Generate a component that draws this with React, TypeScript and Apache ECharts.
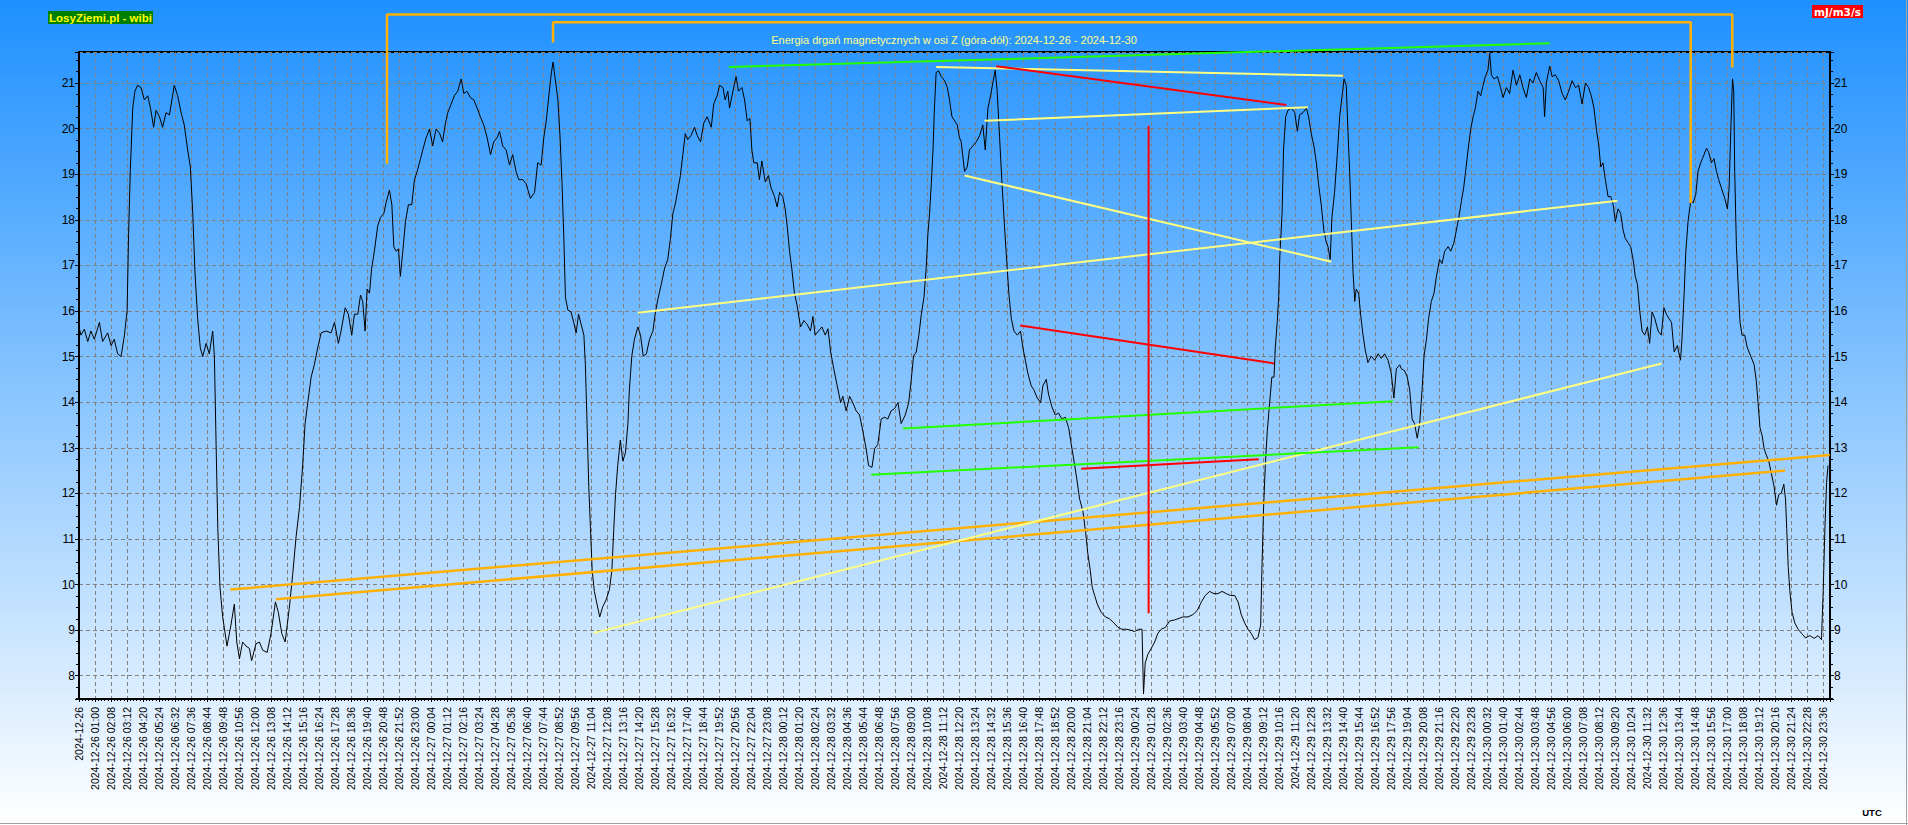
import React, { useEffect, useRef } from "react";
import * as echarts from "echarts";

// minutes from 2024-12-26 00:00 between two labelled ticks
const TICK = 7176 / 109;
const X_MAX = 7203;
const Y_MIN = 7.49;
const Y_MAX = 21.68;

const dayDates = ["2024-12-26", "2024-12-27", "2024-12-28", "2024-12-29", "2024-12-30"];
const times26 = ["", "01:00", "02:08", "03:12", "04:20", "05:24", "06:32", "07:36", "08:44", "09:48", "10:56", "12:00", "13:08", "14:12", "15:16", "16:24", "17:28", "18:36", "19:40", "20:48", "21:52", "23:00"];
const times27 = ["00:04", "01:12", "02:16", "03:24", "04:28", "05:36", "06:40", "07:44", "08:52", "09:56", "11:04", "12:08", "13:16", "14:20", "15:28", "16:32", "17:40", "18:44", "19:52", "20:56", "22:04", "23:08"];
const times28 = ["00:12", "01:20", "02:24", "03:32", "04:36", "05:44", "06:48", "07:56", "09:00", "10:08", "11:12", "12:20", "13:24", "14:32", "15:36", "16:40", "17:48", "18:52", "20:00", "21:04", "22:12", "23:16"];
const times29 = ["00:24", "01:28", "02:36", "03:40", "04:48", "05:52", "07:00", "08:04", "09:12", "10:16", "11:20", "12:28", "13:32", "14:40", "15:44", "16:52", "17:56", "19:04", "20:08", "21:16", "22:20", "23:28"];
const times30 = ["00:32", "01:40", "02:44", "03:48", "04:56", "06:00", "07:08", "08:12", "09:20", "10:24", "11:32", "12:36", "13:44", "14:48", "15:56", "17:00", "18:08", "19:12", "20:16", "21:24", "22:28", "23:36"];

const tickLabels: string[] = [times26, times27, times28, times29, times30].flatMap((day, d) =>
  day.map((t) => (t ? `${dayDates[d]} ${t}` : dayDates[d]))
);

// energy [minute since 2024-12-26 00:00 UTC, mJ/m3/s]
const part1: [number, number][] = [[0,15.65],[8,15.47],[22,15.6],[36,15.33],[49,15.56],[63,15.38],[84,15.75],[97,15.33],[118,15.52],[132,15.24],[145,15.38],[159,15.06],[173,15.0],[187,15.47],[198,16.02],[204,17.68],[211,19.06],[221,20.45],[230,20.82],[241,20.95],[255,20.9],[269,20.63],[283,20.72],[294,20.45],[307,20.03],[317,20.4],[331,20.26],[344,20.03],[358,20.35],[372,20.3],[392,20.95],[406,20.72],[420,20.35],[433,20.08],[447,19.53],[458,19.16],[468,18.14],[477,16.85],[488,15.84],[499,15.19],[509,15.0],[523,15.29],[536,15.06],[550,15.56],[557,15.0],[564,13.07],[571,11.23],[580,9.94],[591,9.29],[609,8.65],[625,9.11],[639,9.57],[649,8.74],[660,8.37],[673,8.74],[687,8.65],[701,8.6],[710,8.33],[728,8.7],[742,8.74],[756,8.56],[774,8.51],[790,8.93],[808,9.62],[820,9.39],[834,8.93],[848,8.74],[865,9.48],[879,10.22],[893,11.05],[907,11.69],[920,12.61],[930,13.53],[941,13.99],[955,14.55],[968,14.82],[982,15.19],[996,15.52],[1016,15.56],[1037,15.52],[1051,15.75],[1067,15.29],[1078,15.56],[1095,16.07],[1108,15.93],[1122,15.47],[1133,15.93],[1147,15.93],[1158,16.35],[1167,16.21],[1177,15.56],[1185,16.48],[1195,16.39],[1204,16.94],[1215,17.31],[1229,17.87],[1240,18.05],[1254,18.14],[1263,18.37],[1277,18.65],[1287,18.33],[1295,17.41],[1304,17.31],[1314,17.36],[1322,16.76],[1332,17.31],[1343,17.96],[1355,18.33],[1369,18.33],[1380,18.88],[1391,19.06],[1405,19.34],[1414,19.53],[1428,19.8],[1442,19.99],[1455,19.62],[1469,19.99],[1483,19.9],[1496,19.71],[1506,20.08],[1517,20.35],[1531,20.54],[1544,20.72],[1558,20.82],[1572,21.09],[1583,20.77],[1596,20.82],[1610,20.68],[1624,20.63],[1638,20.45],[1651,20.26],[1665,20.08],[1679,19.8],[1693,19.43],[1706,19.71],[1720,19.8],[1730,19.94],[1743,19.62],[1757,19.53],[1771,19.2],[1784,19.43],[1798,19.06],[1809,18.88]];
const part2: [number, number][] = [[1826,18.88],[1839,18.79],[1857,18.47],[1874,18.6],[1887,19.25],[1901,19.2],[1912,19.8],[1922,20.17],[1931,20.63],[1942,21.18],[1950,21.46],[1959,21.09],[1970,20.63],[1979,19.8],[1987,18.79],[1994,17.68],[2001,16.3],[2011,16.02],[2024,15.98],[2035,15.75],[2045,15.52],[2055,15.93],[2066,15.7],[2077,15.47],[2083,14.82],[2090,13.53],[2097,12.15],[2104,11.23],[2111,10.31],[2120,9.85],[2131,9.57],[2142,9.29],[2155,9.52],[2168,9.66],[2182,9.89],[2192,10.31],[2200,11.23],[2207,11.97],[2216,12.61],[2227,13.17],[2237,12.71],[2248,12.89],[2258,13.53],[2264,14.27],[2274,15.01],[2285,15.38],[2299,15.65],[2310,15.47],[2321,15.01],[2334,15.06],[2347,15.38],[2361,15.56],[2370,15.93],[2381,16.25],[2395,16.58],[2409,16.94],[2422,17.13],[2433,17.59],[2443,18.14],[2454,18.37],[2463,18.65],[2474,18.97],[2484,19.43],[2494,19.89],[2504,19.76],[2518,19.85],[2532,20.03],[2543,19.85],[2557,19.71],[2570,20.12],[2584,20.26],[2601,20.03],[2611,20.54],[2625,20.72],[2635,20.95],[2649,20.9],[2658,20.63],[2669,20.82],[2676,20.45],[2690,20.82],[2703,21.14],[2713,20.82],[2727,20.9],[2738,20.63],[2749,20.17],[2760,20.22],[2768,19.53],[2776,19.25],[2790,19.25],[2799,18.88],[2809,19.29],[2823,18.83],[2836,18.97],[2847,18.7],[2861,18.51],[2872,18.28],[2882,18.6],[2895,18.51],[2905,18.24],[2913,17.87],[2923,17.31],[2932,16.94],[2943,16.39],[2954,16.12],[2968,15.65],[2982,15.79],[2996,15.7],[3009,15.56],[3019,15.88],[3028,15.47],[3042,15.56],[3056,15.65],[3070,15.47],[3081,15.61],[3092,15.1],[3105,14.73],[3119,14.36],[3133,13.99],[3142,14.13],[3156,13.81],[3170,14.13],[3183,13.99],[3197,13.81],[3211,13.72],[3225,13.35],[3238,12.98],[3248,12.61],[3262,12.57],[3273,12.98],[3286,13.07],[3300,13.63],[3314,13.67],[3327,13.63],[3341,13.81],[3355,13.86],[3369,13.99],[3382,13.53],[3399,13.72],[3413,13.99],[3423,14.46],[3433,15.01],[3444,15.1],[3455,15.47],[3465,15.93],[3476,16.3],[3485,16.94],[3492,17.68],[3499,18.14],[3506,18.79],[3513,19.53],[3519,20.45],[3526,21.23],[3536,21.27],[3547,21.14],[3561,21.05],[3572,20.9],[3581,20.63],[3591,20.26],[3602,20.17],[3613,20.08],[3622,19.8]];
const part3: [number, number][] = [[3629,19.71],[3643,19.06],[3654,19.16],[3663,19.53],[3677,19.62],[3691,19.71],[3705,19.85],[3718,20.08],[3728,19.53],[3739,20.45],[3750,20.72],[3759,21.0],[3769,21.28],[3777,20.82],[3787,19.8],[3796,18.88],[3807,17.87],[3817,17.04],[3825,16.39],[3835,15.84],[3846,15.56],[3860,15.47],[3873,15.56],[3883,15.19],[3893,14.92],[3903,14.64],[3917,14.36],[3928,14.27],[3942,14.09],[3956,13.99],[3965,14.36],[3979,14.5],[3988,14.18],[4002,13.9],[4016,13.72],[4030,13.76],[4043,13.63],[4057,13.67],[4071,13.44],[4082,13.07],[4093,12.71],[4104,12.34],[4116,11.88],[4130,11.6],[4141,11.14],[4150,10.68],[4160,10.31],[4168,9.94],[4178,9.76],[4189,9.57],[4205,9.39],[4222,9.29],[4239,9.25],[4257,9.16],[4274,9.06],[4290,9.02],[4308,9.02],[4326,9.0],[4342,8.97],[4359,9.02],[4373,9.02],[4379,7.6],[4386,8.28],[4397,8.47],[4411,8.6],[4425,8.74],[4438,8.93],[4452,9.02],[4469,9.06],[4486,9.2],[4504,9.22],[4521,9.25],[4541,9.29],[4562,9.29],[4582,9.34],[4600,9.43],[4617,9.62],[4633,9.76],[4651,9.85],[4669,9.8],[4685,9.8],[4702,9.85],[4720,9.8],[4737,9.76],[4754,9.76],[4768,9.62],[4781,9.34],[4795,9.16],[4809,9.02],[4822,8.93],[4836,8.79],[4850,8.84],[4861,9.11],[4866,10.31],[4873,11.69],[4880,12.61],[4888,13.35],[4898,13.99],[4907,14.55],[4916,14.55],[4921,15.19],[4929,15.75],[4935,16.3],[4940,17.22],[4949,18.14],[4955,19.53],[4964,20.26],[4973,20.4],[4987,20.45],[5001,20.35],[5012,19.94],[5021,20.3],[5035,20.35],[5049,20.45],[5058,20.26],[5069,19.89],[5080,19.62],[5090,19.25],[5099,18.79],[5110,18.33],[5121,17.77],[5131,17.5],[5138,17.41],[5147,17.13],[5154,18.05],[5165,18.6],[5176,19.43],[5186,20.26],[5196,20.72],[5204,21.09],[5213,20.95],[5220,19.94],[5227,19.06],[5234,17.96],[5241,16.85],[5248,16.21],[5254,16.48],[5264,16.39],[5272,15.93],[5282,15.47],[5291,15.15],[5302,14.87],[5316,15.01],[5330,14.92],[5344,15.06],[5357,14.96],[5371,15.06],[5385,14.92],[5398,14.64],[5409,14.09],[5419,14.73],[5433,14.82]];
const part4: [number, number][] = [[5440,14.73],[5453,14.69],[5464,14.55],[5474,14.27],[5484,13.63],[5494,13.53],[5505,13.21],[5515,13.53],[5525,14.27],[5533,15.01],[5543,15.38],[5552,15.84],[5563,16.21],[5574,16.39],[5584,16.76],[5597,17.13],[5607,17.04],[5618,17.31],[5632,17.41],[5643,17.31],[5656,17.5],[5666,17.77],[5676,18.05],[5687,18.42],[5696,18.7],[5704,19.06],[5714,19.53],[5725,19.99],[5735,20.26],[5744,20.45],[5755,20.82],[5766,20.72],[5776,20.95],[5785,21.14],[5796,21.28],[5803,21.65],[5810,21.18],[5821,21.09],[5835,21.14],[5848,20.9],[5858,20.68],[5872,20.9],[5885,20.77],[5899,21.28],[5913,20.95],[5927,21.18],[5940,20.9],[5954,20.68],[5968,21.09],[5981,21.0],[5995,21.23],[6009,21.05],[6023,20.9],[6029,20.26],[6036,21.0],[6050,21.37],[6060,21.14],[6073,21.18],[6087,21.05],[6101,20.77],[6114,20.63],[6128,20.82],[6142,21.05],[6156,20.9],[6169,20.95],[6183,20.54],[6197,21.0],[6210,20.9],[6221,20.72],[6232,20.45],[6242,19.99],[6252,19.62],[6260,19.16],[6269,19.25],[6279,18.88],[6290,18.51],[6301,18.51],[6311,18.33],[6320,17.96],[6331,18.24],[6342,18.14],[6352,17.77],[6361,17.59],[6372,17.5],[6383,17.41],[6393,17.13],[6402,16.76],[6411,16.58],[6420,16.02],[6430,15.56],[6441,15.47],[6452,15.65],[6461,15.29],[6471,15.98],[6482,15.84],[6496,15.56],[6509,15.47],[6520,16.07],[6530,15.93],[6540,15.84],[6551,15.75],[6562,15.1],[6575,15.24],[6588,14.92],[6594,15.38],[6603,16.39],[6610,17.31],[6619,17.96],[6630,18.42],[6640,18.37],[6651,18.56],[6660,19.06],[6671,19.25],[6685,19.43],[6695,19.57],[6704,19.48],[6715,19.25],[6726,19.34],[6736,19.06],[6745,18.88],[6756,18.7],[6770,18.47],[6781,18.24],[6788,18.7],[6795,19.99],[6802,21.09],[6807,20.82],[6811,19.06],[6818,17.41],[6825,16.58],[6833,15.75],[6841,15.47],[6852,15.47],[6863,15.19],[6877,15.01],[6891,14.82],[6900,14.46],[6907,13.99],[6915,13.44],[6924,13.26],[6932,12.98],[6941,12.84],[6951,12.71],[6962,12.43],[6973,12.15],[6983,11.74],[6992,11.97],[7003,12.01],[7013,12.2],[7020,11.88],[7025,11.23],[7031,10.4],[7038,9.85],[7047,9.39],[7058,9.16],[7072,9.02],[7086,8.93],[7102,8.83],[7120,8.88],[7138,8.82],[7154,8.88],[7168,8.79],[7175,9.85],[7182,11.23],[7189,12.24],[7195,12.61]];

// drawn trend lines [minute, value]
const orangeLines: [number, number][][] = [
  [[623, 9.89], [7202, 12.84]],
  [[810, 9.68], [7018, 12.5]],
  [[1267, 19.23], [1267, 22.5], [6801, 22.5], [6801, 21.34]],
  [[1950, 21.89], [1950, 22.33], [6630, 22.33], [6630, 18.37]],
];
const yellowLines: [number, number][][] = [
  [[2299, 15.96], [6329, 18.42]],
  [[2118, 8.94], [6510, 14.85]],
  [[3643, 18.97], [5152, 17.08]],
  [[3725, 20.17], [5055, 20.47]],
  [[3526, 21.35], [5200, 21.16]],
];
const greenLines: [number, number][][] = [
  [[2673, 21.35], [6050, 21.87]],
  [[3389, 13.42], [5405, 14.02]],
  [[3259, 12.41], [5511, 13.01]],
];
const redLines: [number, number][][] = [
  [[3773, 21.37], [4967, 20.52]],
  [[3872, 15.68], [4916, 14.85]],
  [[4400, 20.06], [4400, 9.37]],
  [[4123, 12.54], [4853, 12.75]],
];

const FONT = '"Liberation Sans", Arial, sans-serif';

function overlay(lines: [number, number][][], color: string, width: number) {
  return lines.map((pts) => ({
    type: "line",
    data: pts,
    showSymbol: false,
    symbol: "none",
    clip: false,
    silent: true,
    z: 4,
    lineStyle: { color, width },
  }));
}

function yAxisCommon(position: "left" | "right", withSplit: boolean) {
  return {
    type: "value",
    position,
    min: Y_MIN,
    max: Y_MAX,
    splitNumber: 14,
    axisLine: { show: true, lineStyle: { color: "#000", width: 2 } },
    axisTick: { show: true, length: 4, lineStyle: { color: "#000" } },
    minorTick: { show: true, splitNumber: 4, length: 3, lineStyle: { color: "#000" } },
    axisLabel: {
      color: "#000",
      fontSize: 12,
      fontFamily: FONT,
      margin: 4,
      showMinLabel: false,
      showMaxLabel: false,
      formatter: (v: number) => (Math.abs(v - Math.round(v)) < 1e-6 ? String(Math.round(v)) : ""),
    },
    splitLine: {
      show: withSplit,
      lineStyle: { color: "#808080", width: 1, type: [4, 3] },
    },
  };
}

export default function App() {
  const ref = useRef<HTMLDivElement>(null);
  useEffect(() => {
    document.body.style.margin = "0";
    if (!ref.current) return;
    const chart = echarts.init(ref.current, undefined, { renderer: "svg" });
    const energy = [...part1, ...part2, ...part3, ...part4];
    chart.setOption({
      animation: false,
      backgroundColor: "transparent",
      grid: {
        left: 79,
        right: 78,
        top: 52,
        bottom: 126,
        show: true,
        borderColor: "#000",
        borderWidth: 2,
        backgroundColor: "transparent",
      },
      xAxis: {
        type: "value",
        min: 0,
        max: X_MAX,
        interval: TICK,
        axisLine: { show: true, lineStyle: { color: "#000", width: 2 } },
        axisTick: { show: true, length: 3, lineStyle: { color: "#000" } },
        minorTick: { show: true, splitNumber: 5, length: 2, lineStyle: { color: "#000" } },
        axisLabel: {
          rotate: 90,
          margin: 8,
          color: "#000",
          fontSize: 10.5,
          fontFamily: FONT,
          showMinLabel: true,
          showMaxLabel: false,
          formatter: (v: number) => {
            const i = Math.round(v / TICK);
            return Math.abs(v - i * TICK) < 1 ? tickLabels[i] ?? "" : "";
          },
        },
        splitLine: { show: true, lineStyle: { color: "#808080", width: 1, type: [4, 3] } },
      },
      yAxis: [yAxisCommon("left", true), yAxisCommon("right", false)],
      graphic: [
        { type: "rect", shape: { x: 48, y: 11, width: 105, height: 13 }, style: { fill: "#008000" } },
        {
          type: "text",
          x: 100.5,
          y: 18,
          style: {
            text: "LosyZiemi.pl - wibi",
            fill: "#ffff00",
            font: `bold 11.5px ${FONT}`,
            textAlign: "center",
            textVerticalAlign: "middle",
            align: "center",
            verticalAlign: "middle",
          },
        },
        { type: "rect", shape: { x: 1812, y: 5, width: 51, height: 13 }, style: { fill: "#ff0000" } },
        {
          type: "text",
          x: 1837.5,
          y: 11.5,
          style: {
            text: "mJ/m3/s",
            fill: "#ffffff",
            font: 'bold 10.5px "DejaVu Sans", sans-serif',
            textAlign: "center",
            textVerticalAlign: "middle",
            align: "center",
            verticalAlign: "middle",
          },
        },
        {
          type: "text",
          x: 954,
          y: 40,
          style: {
            text: "Energia drgań magnetycznych w osi Z (góra-dół): 2024-12-26 - 2024-12-30",
            fill: "#ffff88",
            font: `11px ${FONT}`,
            textAlign: "center",
            textVerticalAlign: "middle",
            align: "center",
            verticalAlign: "middle",
          },
        },
        {
          type: "text",
          x: 1872,
          y: 812,
          style: {
            text: "UTC",
            fill: "#000",
            font: `bold 9.5px ${FONT}`,
            textAlign: "center",
            textVerticalAlign: "middle",
            align: "center",
            verticalAlign: "middle",
          },
        },
        { type: "line", shape: { x1: 1906.5, y1: 0, x2: 1906.5, y2: 825 }, style: { stroke: "#a0a0a0", lineWidth: 1 } },
        { type: "line", shape: { x1: 0, y1: 823.5, x2: 1908, y2: 823.5 }, style: { stroke: "#a0a0a0", lineWidth: 1 } },
      ],
      series: [
        {
          type: "line",
          data: energy,
          showSymbol: false,
          symbol: "none",
          z: 3,
          lineStyle: { color: "#000", width: 1 },
        },
        ...overlay(orangeLines, "#ffb000", 2.5),
        ...overlay(yellowLines, "#ffff80", 2),
        ...overlay(greenLines, "#22ff00", 2),
        ...overlay(redLines, "#ff0000", 2),
      ],
    } as any);
    return () => chart.dispose();
  }, []);
  return (
    <div
      style={{
        width: 1908,
        height: 825,
        position: "relative",
        background: "linear-gradient(to bottom, #1e90ff 0%, #ffffff 100%)",
      }}
    >
      <div ref={ref} style={{ position: "absolute", left: 0, top: 0, width: 1908, height: 825 }} />
    </div>
  );
}
